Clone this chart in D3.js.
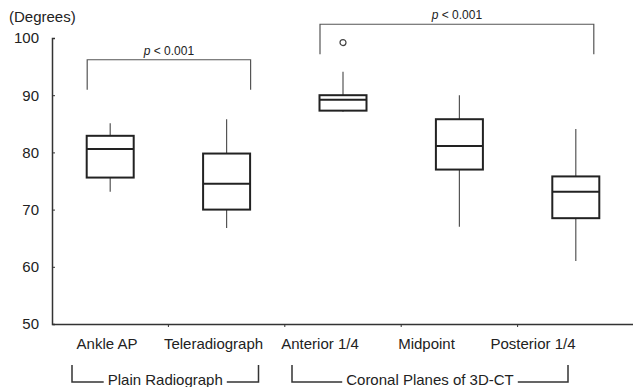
<html>
<head>
<style>
  body { margin: 0; background: #fff; }
  text { font-family: "Liberation Sans", Arial, sans-serif; fill: #222; }
</style>
</head>
<body>
<div id="chart"></div>
<script src="https://d3js.org/d3.v7.min.js"></script>
<script>
// categories and box statistics (degrees)
var categories = ["Ankle AP", "Teleradiograph", "Anterior 1/4", "Midpoint", "Posterior 1/4"];
var whiskerLow = [73.1, 66.8, 87.1, 67.0, 61.0];
var q1 = [75.6, 70.0, 87.3, 77.0, 68.5];
var median = [80.6, 74.5, 89.2, 81.1, 73.1];
var q3 = [82.9, 79.8, 90.0, 85.8, 75.8];
var whiskerHigh = [85.1, 85.8, 94.1, 90.0, 84.1];
var outliers = [[], [], [99.2], [], []];
var yTicks = [50, 60, 70, 80, 90, 100];
var groups = [
  { label: "Plain Radiograph", from: 0, to: 1 },
  { label: "Coronal Planes of 3D-CT", from: 2, to: 4 }
];
var comparisons = [
  { label: "< 0.001", from: 0, to: 1, level: 96.2 },
  { label: "< 0.001", from: 2, to: 4, level: 102.4 }
];

var W = 633, H = 387;
var svg = d3.select("#chart").append("svg")
  .attr("width", W).attr("height", H);

var y = d3.scaleLinear().domain([50, 100]).range([324, 38]);
var x = d3.scaleBand().domain(categories).range([52, 634]);
// category labels in the source sit slightly off the box centres
var xLab = d3.scalePoint().domain(categories).range([107, 533]);

var ink = "#333";

// y axis
var yAxis = svg.append("g").attr("transform", "translate(52,0)")
  .call(d3.axisLeft(y).tickValues(yTicks).tickSize(-3).tickPadding(13));
yAxis.select(".domain").attr("stroke", ink).attr("stroke-width", 1.5);
yAxis.selectAll(".tick line").attr("stroke", ink);
yAxis.selectAll(".tick text").attr("font-size", 15).attr("fill", "#222")
  .style("font-family", "Liberation Sans, Arial, sans-serif");

svg.append("text").attr("x", 9).attr("y", 22).attr("font-size", 15).text("(Degrees)");

// x axis
var xAxis = svg.append("g").attr("transform", "translate(0,324)")
  .call(d3.axisBottom(x).tickSize(0).tickFormat(""));
xAxis.select(".domain").attr("stroke", ink).attr("stroke-width", 1.5);
svg.selectAll(".xtick").data(categories.slice(1)).enter().append("line")
  .attr("x1", function (d) { return x(d); }).attr("x2", function (d) { return x(d); })
  .attr("y1", 324).attr("y2", 327).attr("stroke", ink);

svg.selectAll(".xlab").data(categories).enter().append("text")
  .attr("x", function (d) { return xLab(d); }).attr("y", 349)
  .attr("text-anchor", "middle").attr("font-size", 15)
  .text(function (d) { return d; });

// boxes
var bw = 47;
var boxes = svg.selectAll(".box").data(categories).enter().append("g")
  .attr("transform", function (d) { return "translate(" + (x(d) + x.bandwidth() / 2) + ",0)"; });

boxes.append("line")
  .attr("y1", function (d, i) { return y(whiskerHigh[i]); })
  .attr("y2", function (d, i) { return y(q3[i]); })
  .attr("stroke", "#555").attr("stroke-width", 1.2);
boxes.append("line")
  .attr("y1", function (d, i) { return y(q1[i]); })
  .attr("y2", function (d, i) { return y(whiskerLow[i]); })
  .attr("stroke", "#555").attr("stroke-width", 1.2);
boxes.append("rect")
  .attr("x", -bw / 2).attr("width", bw)
  .attr("y", function (d, i) { return y(q3[i]); })
  .attr("height", function (d, i) { return y(q1[i]) - y(q3[i]); })
  .attr("fill", "#fff").attr("stroke", "#222").attr("stroke-width", 2);
boxes.append("line")
  .attr("x1", -bw / 2).attr("x2", bw / 2)
  .attr("y1", function (d, i) { return y(median[i]); })
  .attr("y2", function (d, i) { return y(median[i]); })
  .attr("stroke", "#222").attr("stroke-width", 2);
boxes.each(function (d, i) {
  d3.select(this).selectAll("circle").data(outliers[i]).enter().append("circle")
    .attr("cy", function (v) { return y(v); }).attr("r", 3)
    .attr("fill", "none").attr("stroke", "#444").attr("stroke-width", 1.2);
});

// significance brackets
comparisons.forEach(function (c) {
  var x0 = x(categories[c.from]) + x.bandwidth() / 2 - 23;
  var x1 = x(categories[c.to]) + x.bandwidth() / 2 + (c.to === 1 ? 24 : 18);
  var yl = y(c.level);
  svg.append("path")
    .attr("d", "M" + x0 + "," + (yl + 30) + "V" + yl + "H" + x1 + "V" + (yl + 30))
    .attr("fill", "none").attr("stroke", "#555").attr("stroke-width", 1.2);
  var t = svg.append("text").attr("x", (x0 + x1) / 2).attr("y", yl - 5)
    .attr("text-anchor", "middle").attr("font-size", 12);
  t.append("tspan").attr("font-style", "italic").text("p");
  t.append("tspan").text(" " + c.label);
});

// group brackets under the axis
groups.forEach(function (g) {
  var a = xLab(categories[g.from]) - (g.from === 0 ? 35 : 28);
  var b = xLab(categories[g.to]) + (g.to === 4 ? 35 : 45);
  var mid = (a + b) / 2;
  var txt = svg.append("text").attr("x", mid).attr("y", 385)
    .attr("text-anchor", "middle").attr("font-size", 15).text(g.label);
  var half = txt.node().getComputedTextLength() / 2 + 4;
  svg.append("path")
    .attr("d", "M" + a + ",365V382H" + (mid - half) + "M" + (mid + half) + ",382H" + b + "V365")
    .attr("fill", "none").attr("stroke", ink).attr("stroke-width", 1.5);
});
</script>
</body>
</html>
